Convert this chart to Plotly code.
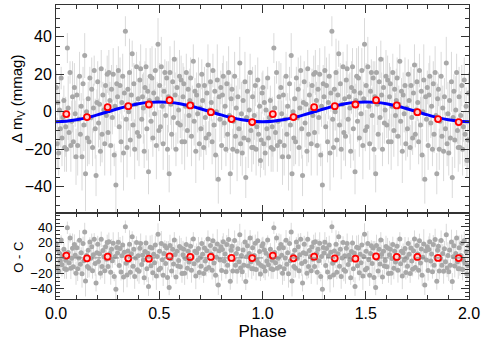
import numpy as np
import plotly.graph_objects as go
from plotly.subplots import make_subplots

# phase-folded photometry (one cycle, shown twice)
phase = [
    0.002, 0.006, 0.009, 0.013, 0.017, 0.021, 0.025, 0.029, 0.033, 0.038, 0.042, 0.047,
    0.051, 0.055, 0.059, 0.063, 0.068, 0.072, 0.076, 0.080, 0.084, 0.089, 0.093, 0.097,
    0.101, 0.105, 0.110, 0.114, 0.118, 0.122, 0.126, 0.131, 0.135, 0.139, 0.143, 0.148,
    0.152, 0.156, 0.160, 0.164, 0.169, 0.173, 0.177, 0.181, 0.185, 0.190, 0.194, 0.198,
    0.202, 0.206, 0.211, 0.215, 0.219, 0.223, 0.227, 0.232, 0.236, 0.240, 0.244, 0.248,
    0.252, 0.256, 0.261, 0.265, 0.269, 0.273, 0.277, 0.282, 0.286, 0.290, 0.294, 0.298,
    0.302, 0.306, 0.310, 0.315, 0.319, 0.323, 0.327, 0.331, 0.336, 0.340, 0.344, 0.348,
    0.352, 0.356, 0.360, 0.365, 0.369, 0.373, 0.377, 0.381, 0.386, 0.390, 0.394, 0.398,
    0.402, 0.406, 0.410, 0.415, 0.419, 0.423, 0.427, 0.431, 0.436, 0.440, 0.444, 0.448,
    0.452, 0.456, 0.460, 0.465, 0.469, 0.473, 0.477, 0.481, 0.486, 0.490, 0.494, 0.498,
    0.502, 0.506, 0.510, 0.515, 0.519, 0.523, 0.527, 0.531, 0.536, 0.540, 0.544, 0.548,
    0.552, 0.556, 0.560, 0.565, 0.569, 0.573, 0.577, 0.581, 0.586, 0.590, 0.594, 0.598,
    0.602, 0.606, 0.610, 0.615, 0.619, 0.623, 0.627, 0.631, 0.636, 0.640, 0.644, 0.648,
    0.652, 0.656, 0.660, 0.665, 0.669, 0.673, 0.677, 0.681, 0.686, 0.690, 0.694, 0.698,
    0.702, 0.706, 0.710, 0.715, 0.719, 0.723, 0.727, 0.731, 0.736, 0.740, 0.744, 0.748,
    0.752, 0.756, 0.760, 0.765, 0.769, 0.773, 0.777, 0.781, 0.786, 0.790, 0.794, 0.798,
    0.802, 0.806, 0.810, 0.815, 0.819, 0.823, 0.827, 0.831, 0.836, 0.840, 0.844, 0.848,
    0.852, 0.856, 0.860, 0.865, 0.869, 0.873, 0.877, 0.881, 0.886, 0.890, 0.894, 0.898,
    0.902, 0.906, 0.910, 0.915, 0.919, 0.923, 0.927, 0.931, 0.936, 0.940, 0.944, 0.948,
    0.952, 0.956, 0.960, 0.965, 0.969, 0.973, 0.977, 0.981, 0.986, 0.990, 0.994, 0.998,
]
dmag = [
    13, -17, 5, -22, 1, -9, 18, -14, -3, 6, -19, -8,
    -20, 34, 2, -11, 21, -18, -5, 8, -16, 13, -1, -24,
    9, -18, -4, 19, -12, 3, -24, 15, -7, 30, -33, 0,
    -14, 7, -16, 18, -3, 12, -19, 2, 22, -9, -34, 5,
    16, -6, 4, -21, 23, -12, 9, 1, -17, 14, -2, 20,
    -11, 21, 6, -18, 12, -3, 20, -23, 3, -39, 15, 8,
    22, -8, 14, -16, 5, 19, -22, 10, 43, -4, -19, 12,
    0, 21, -15, 9, 31, -7, 15, -20, 4, 24, -11, 7,
    -13, 17, 23, -4, 8, 2, -21, 13, 24, -9, 11, -32,
    6, 19, -5, 18, -14, 10, -1, 22, -18, 7, 36, -10,
    14, -8, 24, 3, -17, 11, 21, -2, 18, -20, 8, -33,
    21, 4, -12, 16, -3, 28, 9, -20, 13, -6, 1, 19,
    -7, 17, -16, 8, 15, -16, 3, 21, -10, 12, -2, 6,
    18, -13, 4, 27, -5, 11, -21, 9, -1, 14, -17, 2,
    -9, 20, 6, -19, 14, -3, -14, 10, 25, -12, 1, 16,
    5, -16, 22, -7, 11, -23, 0, 17, -36, 8, -4, 13,
    -18, 9, 19, -6, 3, -20, 15, -12, 21, -2, -33, 7,
    12, -20, -5, 19, -13, 2, -21, 8, -9, 26, -17, -1,
    -22, 6, -14, 16, -35, -3, 11, -15, 1, 21, -10, -19,
    8, -19, -2, 14, -20, -8, 17, -12, 3, -26, -15, 10,
]
err = [
    9, 14, 7, 12, 18, 10, 6, 15, 11, 8, 13, 16,
    12, 8, 17, 10, 6, 14, 11, 19, 9, 13, 7, 15,
    10, 16, 8, 13, 11, 7, 18, 9, 14, 12, 20, 8,
    15, 9, 12, 6, 14, 17, 10, 13, 8, 16, 11, 7,
    11, 13, 19, 8, 10, 15, 7, 12, 17, 9, 14, 10,
    8, 12, 10, 16, 13, 9, 14, 6, 11, 18, 10, 15,
    13, 7, 15, 11, 9, 12, 20, 10, 8, 14, 16, 9,
    10, 18, 9, 14, 7, 13, 11, 16, 12, 8, 15, 11,
    16, 10, 13, 8, 12, 19, 9, 14, 10, 17, 7, 12,
    9, 15, 11, 17, 10, 8, 13, 12, 18, 9, 14, 11,
    12, 9, 16, 10, 14, 11, 7, 15, 9, 13, 19, 10,
    14, 11, 8, 13, 17, 10, 12, 9, 16, 11, 8, 14,
    7, 13, 12, 18, 9, 15, 11, 10, 14, 8, 12, 17,
    11, 16, 10, 9, 13, 7, 17, 12, 10, 15, 9, 13,
    15, 8, 14, 12, 10, 18, 9, 13, 11, 7, 16, 10,
    10, 12, 9, 15, 11, 14, 8, 19, 13, 10, 12, 9,
    13, 17, 11, 8, 16, 9, 12, 10, 14, 18, 11, 8,
    9, 11, 15, 13, 7, 12, 16, 10, 9, 14, 12, 17,
    12, 10, 8, 16, 11, 13, 9, 15, 18, 10, 7, 13,
    16, 9, 13, 11, 14, 8, 12, 17, 10, 9, 15, 11,
]

# fitted curve sampled over one cycle
fit_phase = [0.00, 0.05, 0.10, 0.15, 0.20, 0.25, 0.30, 0.35, 0.40, 0.45, 0.50,
             0.55, 0.60, 0.65, 0.70, 0.75, 0.80, 0.85, 0.90, 0.95, 1.00]
fit_mag = [-5.3, -5.04, -4.29, -3.12, -1.64, 0.0, 1.64, 3.12, 4.29, 5.04, 5.3,
           5.04, 4.29, 3.12, 1.64, 0.0, -1.64, -3.12, -4.29, -5.04, -5.3]

# binned means
bin_phase = [0.05, 0.15, 0.25, 0.35, 0.45, 0.55, 0.65, 0.75, 0.85, 0.95]
bin_mag = [-1.2, -2.8, 2.5, 3.0, 3.9, 6.2, 3.4, -0.2, -3.9, -5.5]
bin_oc = [3.0, -0.5, 1.7, -0.5, -0.9, 2.1, 1.3, 1.3, 0.0, -0.2]

# O - C residuals: data minus fitted curve
ph = np.array(phase)
oc = np.array(dmag) - np.interp(ph, fit_phase, fit_mag)

# two cycles
x2 = np.concatenate([ph, ph + 1])
y2 = np.concatenate([dmag, dmag])
e2 = np.concatenate([err, err])
oc2 = np.concatenate([oc, oc])
fx2 = np.concatenate([fit_phase, np.array(fit_phase[1:]) + 1])
fy2 = np.concatenate([fit_mag, fit_mag[1:]])
bx2 = np.concatenate([bin_phase, np.array(bin_phase) + 1])
by2 = np.concatenate([bin_mag, bin_mag])
bo2 = np.concatenate([bin_oc, bin_oc])

FONT = "Liberation Sans, Arial, Helvetica, sans-serif"
AXC = "#333333"

fig = make_subplots(rows=2, cols=1, shared_xaxes=True, vertical_spacing=0,
                    row_heights=[0.7075, 0.2925])

pts = dict(mode="markers", marker=dict(color="#a8a8a8", size=5),
           showlegend=False, hoverinfo="skip")
fig.add_trace(go.Scatter(x=x2, y=y2, error_y=dict(type="data", array=e2, color="#dadada",
                                                   thickness=1, width=0), **pts), row=1, col=1)
fig.add_trace(go.Scatter(x=fx2, y=fy2, mode="lines", line=dict(color="#0000ff", width=3, shape="spline"),
                         showlegend=False), row=1, col=1)
circ = dict(mode="markers", marker=dict(color="#ffd0d0", size=6, line=dict(color="#ff0000", width=1.8)),
            showlegend=False)
fig.add_trace(go.Scatter(x=bx2, y=by2, **circ), row=1, col=1)

fig.add_trace(go.Scatter(x=x2, y=oc2, error_y=dict(type="data", array=e2, color="#dadada",
                                                    thickness=1, width=0), **pts), row=2, col=1)
fig.add_hline(y=0, line=dict(color="#888888", width=1, dash="dash"), row=2, col=1)
fig.add_trace(go.Scatter(x=bx2, y=bo2, **circ), row=2, col=1)

ax = dict(showgrid=False, zeroline=False, showline=True, linecolor=AXC, linewidth=1,
          mirror="allticks", ticks="inside", tickcolor=AXC, ticklen=8, automargin=False,
          tickfont=dict(family=FONT, size=16, color="black"))
fig.update_xaxes(range=[0, 2], tickvals=[0, 0.5, 1.0, 1.5, 2.0], tickformat=".1f",
                 minor=dict(dtick=0.1, ticks="inside", ticklen=4, tickcolor=AXC), **ax)
fig.update_xaxes(showticklabels=False, row=1, col=1)
fig.update_xaxes(title=dict(text="Phase", font=dict(family=FONT, size=17, color="black"), standoff=2),
                 row=2, col=1)
fig.update_yaxes(range=[-54, 57], tickvals=[-40, -20, 0, 20, 40],
                 minor=dict(dtick=5, ticks="inside", ticklen=4, tickcolor=AXC),
                 row=1, col=1, **ax)
ax2 = dict(ax, tickfont=dict(family=FONT, size=13, color="black"))
fig.update_yaxes(range=[-53, 58], tickvals=[-40, -20, 0, 20, 40],
                 minor=dict(dtick=5, ticks="inside", ticklen=4, tickcolor=AXC),
                 row=2, col=1, **ax2)

# y titles as rotated annotations (placed like the original)
fig.add_annotation(text="\u0394 m<sub>V</sub> (mmag)", xref="paper", yref="paper", x=-0.094, y=0.68,
                   xanchor="center", yanchor="middle", textangle=-90, showarrow=False,
                   font=dict(family=FONT, size=15, color="black"))
fig.add_annotation(text="O - C", xref="paper", yref="paper", x=-0.09, y=0.143,
                   xanchor="center", yanchor="middle", textangle=-90, showarrow=False,
                   font=dict(family=FONT, size=13, color="black"))

fig.update_layout(width=490, height=349, margin=dict(l=56, r=21, t=5, b=50),
                  paper_bgcolor="white", plot_bgcolor="white", showlegend=False)

# drop the page's default body margin so the figure sits at the window origin
fig.write_html("out.html", config={"displayModeBar": False},
               post_script="document.body.style.margin='0';")
